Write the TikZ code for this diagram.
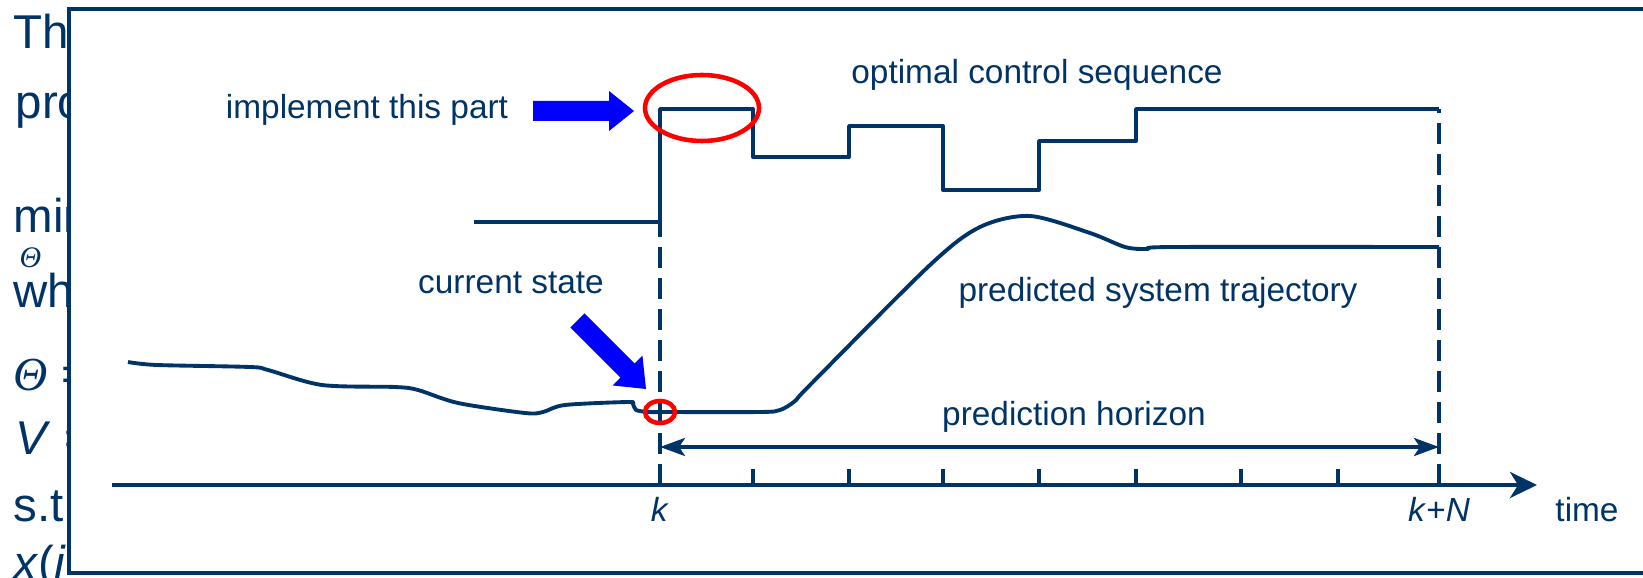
\documentclass[tikz,border=0pt]{standalone}
\usepackage{fontspec}
\setmainfont{Liberation Sans}
\newfontfamily\thetafont{Liberation Serif}
\usetikzlibrary{arrows.meta}
\definecolor{navy}{RGB}{0,51,102}
\tikzset{
  signal/.style={navy, line width=1.1pt, line join=round},
  dashline/.style={navy, line width=1.1pt, dash pattern=on 0.21cm off 0.10cm},
  txt/.style={navy, inner sep=0pt, anchor=base, font=\fontsize{9.5}{11}\selectfont},
  slidetxt/.style={navy, inner sep=0pt, anchor=base west, font=\fontsize{13.5}{16}\selectfont},
  redring/.style={red, line width=1.3pt},
  blockarrow/.style={fill=blue, draw=none}
}

\begin{document}
\begin{tikzpicture}
      \useasboundingbox (0,0) rectangle (16.43,5.77);
      \clip (0,0) rectangle (16.43,5.77);

      % slide text behind the frame
      \node [slidetxt] (s1) at (0.13,5.28) {The};
      \node [slidetxt] (s2) at (0.15,4.58) {pro};
      \node [slidetxt] (s3) at (0.13,3.45) {min};
      \node [slidetxt, font=\fontsize{8.5}{9}\selectfont\thetafont\itshape] (s4) at (0.19,3.10) {Θ};
      \node [slidetxt] (s5) at (0.13,2.70) {whe};
      \node [slidetxt] (s6) at (0.13,1.87) {{\thetafont\itshape Θ}\ =};
      \node [slidetxt] (s7) at (0.15,1.23) {\textit{V}\ =};
      \node [slidetxt] (s8) at (0.13,0.56) {s.t.};
      \node [slidetxt] (s9) at (0.13,-0.02) {\textit{x}(\textit{i}};

      % frame
      \draw [navy, line width=1.1pt, fill=white] (0.69,0.04) rectangle (16.80,5.68);

      % time axis
      \coordinate (origin) at (1.12,0.92);
      \coordinate (tend) at (15.37,0.92);
      \coordinate (k) at (6.60,0.92);
      \coordinate (kN) at (14.39,0.92);
      \draw [signal, -{Stealth[length=0.27cm, width=0.26cm, inset=0.08cm]}] (origin) -- (tend);
      \foreach \x in {7.53,8.49,9.43,10.39,11.36,12.41,13.38}
        \draw [signal] (\x,0.92) -- (\x,1.08);
      \draw [dashline] (k) -- (6.60,3.55);
      \draw [dashline] (kN) -- (14.39,4.68);

      % prediction horizon
      \coordinate (hl) at (6.60,1.30);
      \coordinate (hr) at (14.39,1.30);
      \draw [signal, {Stealth[length=0.25cm, width=0.18cm, inset=0.06cm]}-{Stealth[length=0.25cm, width=0.18cm, inset=0.06cm]}] (hl) -- (hr);

      % control sequence
      \draw [signal] (4.74,3.55) -- (6.60,3.55) -- (6.60,4.68) -- (7.53,4.68) -- (7.53,4.20)
        -- (8.49,4.20) -- (8.49,4.51) -- (9.43,4.51) -- (9.43,3.87) -- (10.39,3.87)
        -- (10.39,4.36) -- (11.36,4.36) -- (11.36,4.68) -- (14.39,4.68);

      % past and predicted trajectory
      \draw [signal] plot [smooth, tension=0.5] coordinates {(1.28,2.15) (1.57,2.12) (2.50,2.10)
        (2.68,2.07) (3.22,1.92) (3.95,1.90) (4.18,1.87) (4.58,1.74) (5.25,1.64) (5.43,1.65)
        (5.65,1.72) (6.28,1.75) (6.33,1.73) (6.36,1.67) (6.48,1.65) (6.60,1.65)};
      \draw [signal] plot [smooth, tension=0.5] coordinates {(6.60,1.65) (7.60,1.65) (7.80,1.67)
        (7.95,1.76) (8.10,1.92) (9.30,3.12) (9.80,3.50) (10.30,3.61) (10.90,3.44)
        (11.25,3.30) (11.47,3.28) (11.73,3.30) (14.39,3.30)};

      % markers
      \draw [redring] (7.02,4.69) ellipse (0.57 and 0.33);
      \draw [redring] (6.60,1.65) ellipse (0.15 and 0.11);
      \fill [blockarrow] (5.33,4.56) -- (6.09,4.56) -- (6.09,4.46) -- (6.34,4.66) -- (6.09,4.86)
        -- (6.09,4.76) -- (5.33,4.76) -- cycle;
      \begin{scope}[shift={(6.46,1.88)}, rotate=-45]
        \fill [blockarrow] (-0.97,-0.10) -- (-0.26,-0.10) -- (-0.26,-0.21) -- (0,0) -- (-0.26,0.21)
          -- (-0.26,0.10) -- (-0.97,0.10) -- cycle;
      \end{scope}

      \node [txt] (optlbl) at (10.37,4.93) {optimal control sequence};
      \node [txt] (implbl) at (3.67,4.58) {implement this part};
      \node [txt] (curlbl) at (5.11,2.84) {current state};
      \node [txt] (predlbl) at (11.58,2.76) {predicted system trajectory};
      \node [txt] (horlbl) at (10.74,1.52) {prediction horizon};
      \node [txt] (klbl) at (6.60,0.56) {\textit{k}};
      \node [txt] (kNlbl) at (14.39,0.56) {\textit{k}+\textit{N}};
      \node [txt] (timelbl) at (15.87,0.56) {time};
\end{tikzpicture}
\end{document}
